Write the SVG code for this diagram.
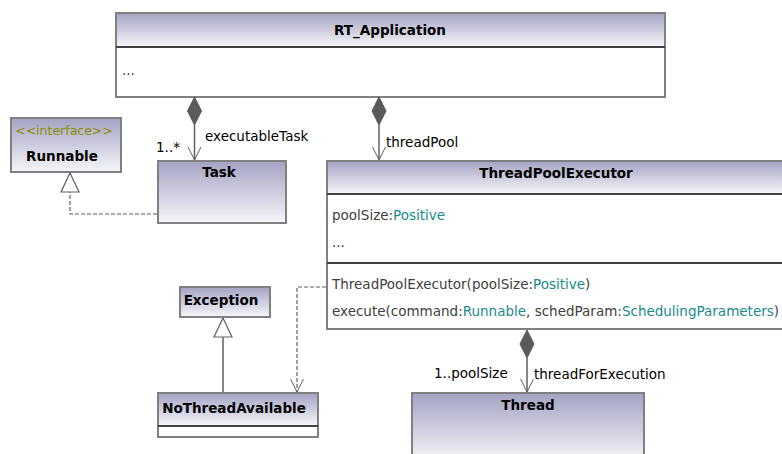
<svg xmlns="http://www.w3.org/2000/svg" width="782" height="454" viewBox="0 0 782 454">
  <defs>
    <linearGradient id="hdr" x1="0" y1="0" x2="0" y2="1">
      <stop offset="0" stop-color="#a4a3c4"/>
      <stop offset="1" stop-color="#f6f6f9"/>
    </linearGradient>
    <marker id="openArrow" markerWidth="16" markerHeight="16" refX="13" refY="8" orient="auto" markerUnits="userSpaceOnUse">
      <path d="M0,1.5 L13,8 L0,14.5" fill="none" stroke="#606060" stroke-width="1"/>
    </marker>
    <style>
      .box { fill: #ffffff; stroke: #808080; stroke-width: 2; }
      .hbox { fill: url(#hdr); stroke: #808080; stroke-width: 2; }
      .sep { stroke: #404040; stroke-width: 2; }
      .name { font-family: "DejaVu Sans", Verdana, sans-serif; font-weight: bold; font-size: 13.5px; fill: #000; text-anchor: middle; }
      .txt { font-family: "DejaVu Sans", Verdana, sans-serif; font-size: 13.5px; fill: #404040; }
      .type { fill: #1a8c8c; }
      .stereo { font-family: "DejaVu Sans", Verdana, sans-serif; font-size: 12.5px; fill: #8c8c00; text-anchor: middle; }
      .lbl { font-family: "DejaVu Sans", Verdana, sans-serif; font-size: 13.5px; fill: #000; }
      .solid { stroke: #606060; stroke-width: 1.5; fill: none; }
      .dash { stroke: #606060; stroke-width: 1.2; fill: none; stroke-dasharray: 4 2; }
      .diamond { fill: #5a5a5a; stroke: #5a5a5a; stroke-width: 1; }
      .tri { fill: #ffffff; stroke: #606060; stroke-width: 1.2; }
    </style>
  </defs>

  <!-- RT_Application -->
  <g id="rt_application">
    <rect class="box" x="116" y="13" width="549" height="84"/>
    <rect class="hbox" x="116" y="13" width="549" height="34"/>
    <line class="sep" x1="116" y1="47" x2="665" y2="47"/>
    <text class="name" x="390" y="35">RT_Application</text>
    <text class="txt" x="122" y="75">...</text>
  </g>

  <!-- Runnable interface -->
  <g id="runnable">
    <rect class="hbox" x="11" y="118" width="110" height="54"/>
    <text class="stereo" x="64" y="135">&lt;&lt;interface&gt;&gt;</text>
    <text class="name" x="62" y="161">Runnable</text>
  </g>

  <!-- Task -->
  <g id="task">
    <rect class="hbox" x="158" y="161" width="128" height="62"/>
    <text class="name" x="219" y="177">Task</text>
  </g>

  <!-- ThreadPoolExecutor -->
  <g id="threadpoolexecutor">
    <rect class="box" x="327" y="161" width="460" height="168"/>
    <rect class="hbox" x="327" y="161" width="460" height="33"/>
    <line class="sep" x1="327" y1="194" x2="787" y2="194"/>
    <line class="sep" x1="327" y1="263" x2="787" y2="263"/>
    <text class="name" x="556" y="178">ThreadPoolExecutor</text>
    <text class="txt" x="332" y="220">poolSize:<tspan class="type">Positive</tspan></text>
    <text class="txt" x="332" y="247">...</text>
    <text class="txt" x="332" y="289">ThreadPoolExecutor(poolSize:<tspan class="type">Positive</tspan>)</text>
    <text class="txt" x="332" y="316">execute(command:<tspan class="type">Runnable</tspan>, schedParam:<tspan class="type">SchedulingParameters</tspan>)</text>
  </g>

  <!-- Exception -->
  <g id="exception">
    <rect class="hbox" x="180" y="287" width="90" height="30"/>
    <text class="name" x="221" y="305">Exception</text>
  </g>

  <!-- NoThreadAvailable -->
  <g id="nothreadavailable">
    <rect class="box" x="158" y="393" width="160" height="44"/>
    <rect class="hbox" x="158" y="393" width="160" height="33"/>
    <line class="sep" x1="158" y1="426" x2="318" y2="426"/>
    <text class="name" x="234" y="413">NoThreadAvailable</text>
  </g>

  <!-- Thread -->
  <g id="thread">
    <rect class="hbox" x="412" y="393" width="232" height="70"/>
    <text class="name" x="528" y="410">Thread</text>
  </g>

  <!-- Connectors -->
  <g id="connectors">
    <!-- RT_Application composes Task -->
    <path class="diamond" d="M194.5,97 L201.5,111 L194.5,125 L187.5,111 Z"/>
    <line class="solid" x1="194.5" y1="125" x2="194.5" y2="160" marker-end="url(#openArrow)"/>
    <text class="lbl" x="156" y="152">1..*</text>
    <text class="lbl" x="205" y="141">executableTask</text>

    <!-- RT_Application composes ThreadPoolExecutor -->
    <path class="diamond" d="M379,97 L386,111 L379,125 L372,111 Z"/>
    <line class="solid" x1="379" y1="125" x2="379" y2="160" marker-end="url(#openArrow)"/>
    <text class="lbl" x="386" y="147">threadPool</text>

    <!-- Task realizes Runnable -->
    <path class="dash" d="M157,214 L70,214 L70,192"/>
    <path class="tri" d="M70,173 L79,192 L61,192 Z"/>

    <!-- NoThreadAvailable generalizes Exception -->
    <line class="solid" x1="223" y1="337" x2="223" y2="392"/>
    <path class="tri" d="M223,318 L232,337 L214,337 Z"/>

    <!-- ThreadPoolExecutor depends on NoThreadAvailable -->
    <path class="dash" d="M326,287 L297,287 L297,392" marker-end="url(#openArrow)"/>

    <!-- ThreadPoolExecutor composes Thread -->
    <path class="diamond" d="M527,330 L534,344 L527,358 L520,344 Z"/>
    <line class="solid" x1="527" y1="358" x2="527" y2="392" marker-end="url(#openArrow)"/>
    <text class="lbl" x="434" y="378">1..poolSize</text>
    <text class="lbl" x="534" y="379">threadForExecution</text>
  </g>
</svg>
